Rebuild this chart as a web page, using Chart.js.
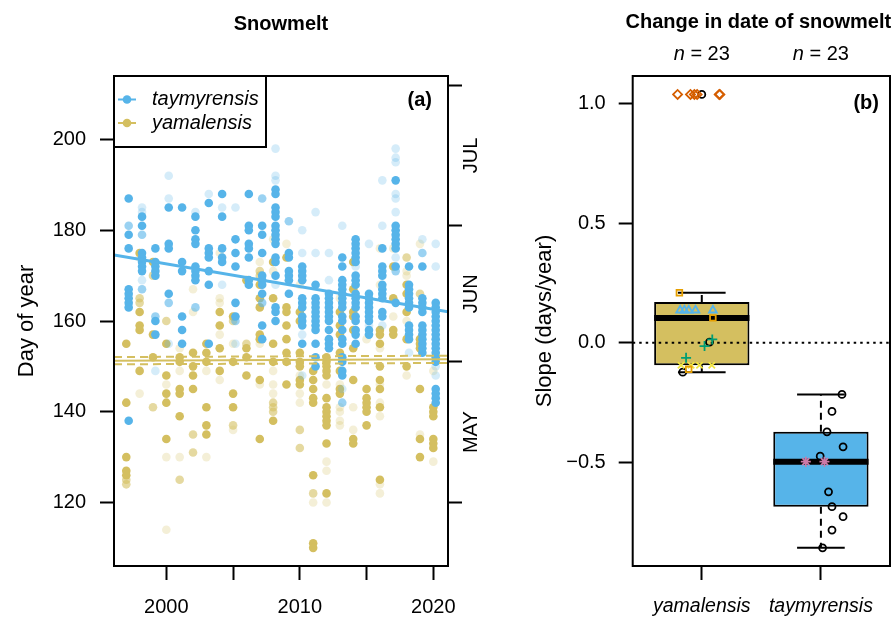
<!DOCTYPE html>
<html>
<head>
<meta charset="utf-8">
<script src="https://cdn.jsdelivr.net/npm/chart.js@4.4.1/dist/chart.umd.min.js"></script>
<style>
  html, body { margin: 0; padding: 0; background: #fff; }
  #wrap { position: relative; width: 891px; height: 618px; }
  canvas { position: absolute; top: 0; }
  #chart_snow { left: 0; }
  #chart_slope { left: 500px; }
</style>
</head>
<body>
<div id="wrap">
  <canvas id="chart_snow" width="500" height="618"></canvas>
  <canvas id="chart_slope" width="391" height="618"></canvas>
</div>
<script>
// ---- panel (a): snowmelt day per year ----
const years = [1997, 1998, 1999, 2000, 2001, 2002, 2003, 2004, 2005, 2006, 2007, 2008,
               2009, 2010, 2011, 2012, 2013, 2014, 2015, 2016, 2017, 2018, 2019, 2020];
const seriesNames = ['taymyrensis', 'yamalensis'];

// taymyrensis, day of year (solid / half / faint points)
const tayDays = [
  [187, 179, 176, 167, 166, 165, 164, 163, 138],
  [183, 181, 175, 174, 173, 172, 171],
  [176, 173, 172, 171, 170, 160, 157],
  [185, 177, 176, 166],
  [185, 173, 171, 161, 158, 155],
  [183, 180, 178, 177, 172, 171, 170, 169],
  [186, 176, 175, 174, 171, 168, 155],
  [188, 183, 176, 174, 173],
  [178, 175, 172, 164, 161],
  [188, 181, 180, 177, 176, 174, 169, 168],
  [181, 179, 175, 170, 169, 168, 166, 159, 156],
  [189, 188, 185, 184, 183, 181, 180, 179, 178, 177, 174, 173, 170, 163, 162, 160],
  [175, 174, 171, 170, 169, 166],
  [172, 171, 170, 169, 165, 164, 163, 161, 160, 159, 155],
  [168, 165, 164, 163, 162, 161, 160, 159, 158, 155, 152, 150],
  [166, 165, 164, 163, 162, 161, 160, 158, 156, 155, 154],
  [174, 172, 169, 168, 167, 166, 165, 164, 163, 161, 160, 158, 156, 155, 152, 151, 149, 148],
  [178, 177, 176, 175, 174, 173, 170, 169, 168, 166, 165, 164, 163, 161, 160, 158, 157, 155],
  [166, 165, 164, 163, 162, 161, 160, 158, 157],
  [176, 172, 171, 170, 168, 167, 166, 165, 162, 161],
  [191, 181, 180, 179, 178, 177, 176, 172, 164],
  [172, 168, 167, 166, 165, 164, 163, 159, 158, 157, 156],
  [172, 165, 164, 163, 162, 159, 158, 157, 156, 155, 154, 153],
  [164, 163, 162, 161, 160, 159, 158, 157, 156, 155, 154, 153, 152, 151, 145, 144, 143, 142]
];
const tayDaysMid = [
  [181], [179, 167], [161], [164], [], [163], [], [], [160], [], [187, 164], [],
  [182], [], [], [], [142], [], [], [], [171], [], [175], []
];
const tayDaysFaint = [
  [], [185, 184, 169], [149], [192, 187, 155], [], [184], [188], [185, 168], [185, 155], [], [], [198, 192, 191, 168],
  [], [180, 175, 157, 148], [184, 175], [175, 169], [181, 145], [172], [177, 159], [191, 181, 159],
  [198, 196, 195, 188, 187, 184, 174], [153], [178], [177, 172, 150, 148]
];

// yamalensis, day of year
const yamDays = [
  [155, 142, 130, 127, 126],
  [175, 162, 159, 158, 149],
  [173, 157, 152],
  [155, 148, 144, 142, 134],
  [152, 151, 145, 144, 139],
  [153, 150, 148, 145],
  [155, 153, 151, 141, 137, 135],
  [162, 159, 154, 149],
  [161, 151, 144, 141],
  [169, 154, 152, 148],
  [168, 165, 163, 157, 156, 147, 134],
  [173, 165, 155, 151, 138],
  [174, 163, 162, 159, 156, 153, 151, 146],
  [162, 160, 153, 151, 150, 147, 146],
  [149, 147, 145, 143, 142, 126, 111, 110],
  [152, 151, 150, 149, 148, 143, 141, 140, 139, 138, 137, 133, 122],
  [162, 159, 157, 153, 149, 145, 144],
  [173, 167, 162, 161, 158, 154, 147, 134, 133],
  [145, 143, 142, 141, 140, 137],
  [158, 157, 155, 150, 147, 145, 141, 125],
  [172, 165, 158, 157],
  [168, 166, 162, 156, 150],
  [156, 155, 154, 145, 134, 130],
  [141, 140, 139, 134, 133, 132]
];
const yamDaysMid = [
  [125, 124], [165, 164], [170, 141], [160], [125], [135, 131], [], [], [160, 137], [155], [171, 170], [142, 141, 140],
  [], [136, 132], [122], [], [], [], [], [], [], [174], [166], []
];
const yamDaysFaint = [
  [], [174, 144], [], [146, 130, 114], [154, 149, 130], [167, 162], [149, 130], [175, 165, 164, 157, 147],
  [155, 136], [], [173, 155, 146], [178, 171, 149, 146, 144], [177], [168, 148, 144, 142], [120],
  [146, 129, 127, 120], [165, 146, 141, 140, 138, 137], [141, 136], [156],
  [176, 168, 154, 146, 142, 139, 124, 122], [176, 161], [171, 170, 160, 148], [177, 135], [149, 129]
];

// fitted trends: [day at 2000, slope in days/year]
const tayFit = [172.6, -0.50];
const yamFit = [151.3, 0.012];
const yamFitBand = 0.8;

const yearTicks = [2000, 2005, 2010, 2015, 2020];
const yearLabels = [2000, 2010, 2020];
const dayTicks = [120, 140, 160, 180, 200];
const monthStarts = [120, 151, 181, 212];
const months = ['MAY', 'JUN', 'JUL'];

// ---- panel (b): change in snowmelt date ----
const species = ['yamalensis', 'taymyrensis'];
const speciesN = [23, 23];
const boxLower = [-0.123, -0.857];
const boxQ1 = [-0.094, -0.685];
const boxMedian = [0.104, -0.497];
const boxQ3 = [0.170, -0.372];
const boxUpper = [0.209, -0.216];
const slopeTicks = [-0.5, 0, 0.5, 1.0];

// jittered site slopes [x, slope], one list per marker group
const slopeDiamond = [[0.797, 1.038], [0.905, 1.038], [0.938, 1.038], [0.961, 1.038], [1.146, 1.038], [1.152, 1.038]];
const slopeSquare = [[0.812, 0.209], [1.093, 0.104], [0.890, -0.111]];
const slopeTriangle = [[0.818, 0.136], [0.854, 0.136], [0.890, 0.136], [0.947, 0.136], [1.093, 0.136]];
const slopePlus = [[1.088, 0.014], [1.023, -0.014], [0.868, -0.063]];
const slopeCross = [[0.826, -0.094], [0.910, -0.094], [0.981, -0.094], [1.084, -0.094]];
const slopeStar = [[1.873, -0.497], [2.030, -0.497]];
const slopeCircle = [[1.000, 1.038], [1.065, 0.003], [0.840, -0.123],
  [2.177, -0.216], [2.093, -0.287], [2.051, -0.372], [2.186, -0.435], [1.994, -0.474],
  [2.064, -0.623], [2.093, -0.685], [2.186, -0.727], [2.093, -0.783], [2.014, -0.857]];

const blue = '#56B4E9';
const yellow = '#D4BF60';
const fontFamily = '"Liberation Sans", Arial, Helvetica, sans-serif';

Chart.defaults.font.family = fontFamily;
Chart.defaults.font.size = 20;
Chart.defaults.color = '#000';

function rgba(hex, a) {
  const n = parseInt(hex.slice(1), 16);
  return `rgba(${n >> 16}, ${(n >> 8) & 255}, ${n & 255}, ${a})`;
}

function pointsOf(daysByYear, dodge) {
  const pts = [];
  daysByYear.forEach((days, i) => days.forEach(d => pts.push({ x: years[i] + dodge, y: d })));
  return pts;
}

const xMin = 1996.08, xMax = 2021.1;
function fitLine(fit, shift) {
  return [xMin, xMax].map(x => ({ x: x, y: fit[0] + fit[1] * (x - 2000) + shift }));
}

function dots(data, color, alpha, order) {
  return {
    type: 'scatter', data: data, order: order,
    backgroundColor: rgba(color, alpha), borderColor: rgba(color, alpha),
    borderWidth: 0, pointRadius: 4.3
  };
}

const tayDodge = 0.18;

const axisGrid = { display: true, offset: false, drawOnChartArea: false, drawTicks: true, tickLength: 14, tickWidth: 2, tickColor: '#000' };
const axisTitleFont = { size: 22 };

// keep the plot box fixed: no extra room for edge labels
function fixHeight(s) { s.height = 52; s.paddingLeft = 0; s.paddingRight = 0; }

const snowDecor = {
  id: 'snowDecor',
  afterDraw(chart) {
    const { ctx, chartArea: a, scales } = chart;
    ctx.save();
    ctx.strokeStyle = '#000';
    ctx.lineWidth = 2;
    ctx.strokeRect(a.left, a.top, a.right - a.left, a.bottom - a.top);

    ctx.fillStyle = '#000';
    ctx.font = 'bold 20px ' + fontFamily;
    ctx.textAlign = 'center';
    ctx.textBaseline = 'middle';
    ctx.fillText('Snowmelt', (a.left + a.right) / 2, 24);
    ctx.textAlign = 'right';
    ctx.fillText('(a)', a.right - 16, a.top + 24);

    // month names between the month ticks
    ctx.font = '20px ' + fontFamily;
    ctx.textAlign = 'center';
    months.forEach((m, i) => {
      const y = scales.y.getPixelForValue((monthStarts[i] + monthStarts[i + 1]) / 2);
      ctx.save();
      ctx.translate(a.right + 23, y);
      ctx.rotate(-Math.PI / 2);
      ctx.fillText(m, 0, 0);
      ctx.restore();
    });

    // legend
    const lw = 152, lh = 71;
    ctx.fillStyle = '#fff';
    ctx.fillRect(a.left, a.top, lw, lh);
    ctx.strokeRect(a.left, a.top, lw, lh);
    [blue, yellow].forEach((c, i) => {
      const y = a.top + 23.5 + i * 23.5;
      ctx.strokeStyle = c;
      ctx.lineWidth = 2;
      ctx.beginPath();
      ctx.moveTo(a.left + 4, y);
      ctx.lineTo(a.left + 22, y);
      ctx.stroke();
      ctx.fillStyle = c;
      ctx.beginPath();
      ctx.arc(a.left + 13, y, 4.3, 0, Math.PI * 2);
      ctx.fill();
      ctx.fillStyle = '#000';
      ctx.font = 'italic 20px ' + fontFamily;
      ctx.textAlign = 'left';
      ctx.fillText(seriesNames[i], a.left + 38, y);
    });
    ctx.restore();
  }
};

new Chart(document.getElementById('chart_snow'), {
  type: 'scatter',
  data: {
    datasets: [
      { type: 'line', data: fitLine(tayFit, 0), borderColor: blue, borderWidth: 3, pointRadius: 0, order: 0 },
      { type: 'line', data: fitLine(yamFit, 0), borderColor: yellow, borderWidth: 2, pointRadius: 0, order: 1 },
      { type: 'line', data: fitLine(yamFit, yamFitBand), borderColor: yellow, borderWidth: 2, borderDash: [8, 5], pointRadius: 0, order: 1 },
      { type: 'line', data: fitLine(yamFit, -yamFitBand), borderColor: yellow, borderWidth: 2, borderDash: [8, 5], pointRadius: 0, order: 1 },
      dots(pointsOf(tayDays, tayDodge), blue, 1, 2),
      dots(pointsOf(tayDaysMid, tayDodge), blue, 0.6, 3),
      dots(pointsOf(tayDaysFaint, tayDodge), blue, 0.25, 4),
      dots(pointsOf(yamDays, 0), yellow, 1, 5),
      dots(pointsOf(yamDaysMid, 0), yellow, 0.6, 6),
      dots(pointsOf(yamDaysFaint, 0), yellow, 0.25, 7)
    ]
  },
  options: {
    responsive: false,
    animation: false,
    events: [],
    layout: { autoPadding: false, padding: { top: 76, left: 0, right: 0, bottom: 0 } },
    plugins: { legend: { display: false }, tooltip: { enabled: false } },
    scales: {
      x: {
        type: 'linear', min: xMin, max: xMax,
        afterFit: fixHeight,
        afterBuildTicks: s => { s.ticks = yearTicks.map(v => ({ value: v })); },
        ticks: { callback: v => yearLabels.includes(v) ? String(v) : '', padding: 15, maxRotation: 0, autoSkip: false },
        grid: axisGrid,
        border: { display: false }
      },
      y: {
        min: 106, max: 214,
        afterFit: s => { s.width = 114; },
        afterBuildTicks: s => { s.ticks = dayTicks.map(v => ({ value: v })); },
        ticks: { padding: 14, autoSkip: false },
        grid: axisGrid,
        border: { display: false },
        title: { display: true, text: 'Day of year', font: axisTitleFont, padding: { top: 14, bottom: 0 } }
      },
      y2: {
        position: 'right', min: 106, max: 214,
        afterFit: s => { s.width = 52; },
        afterBuildTicks: s => { s.ticks = monthStarts.map(v => ({ value: v })); },
        ticks: { callback: () => '', padding: 0, autoSkip: false },
        grid: axisGrid,
        border: { display: false }
      }
    }
  },
  plugins: [snowDecor]
});

// ---- panel (b) ----
const boxHalf = 0.4, capHalf = 0.2;
const slopeMin = -0.933, slopeMax = 1.115;
const catMin = 0.42, catMax = 2.58;

function seg(x1, y1, x2, y2, width, dash, order) {
  return {
    type: 'line', data: [{ x: x1, y: y1 }, { x: x2, y: y2 }],
    borderColor: '#000', borderWidth: width, borderDash: dash, pointRadius: 0, order: order
  };
}

const boxParts = [];
species.forEach((name, i) => {
  const c = i + 1;
  boxParts.push(seg(c, boxQ3[i], c, boxUpper[i], 2, [7, 5], 2));
  boxParts.push(seg(c, boxQ1[i], c, boxLower[i], 2, [7, 5], 2));
  boxParts.push(seg(c - capHalf, boxUpper[i], c + capHalf, boxUpper[i], 2, [], 2));
  boxParts.push(seg(c - capHalf, boxLower[i], c + capHalf, boxLower[i], 2, [], 2));
  boxParts.push(seg(c - boxHalf, boxMedian[i], c + boxHalf, boxMedian[i], 6, [], 2));
});

function marks(list, style, color, radius) {
  return {
    type: 'scatter', data: list.map(p => ({ x: p[0], y: p[1] })), order: 0,
    pointStyle: style, pointRadius: radius, borderColor: color, backgroundColor: 'rgba(0,0,0,0)', borderWidth: 1.8
  };
}

const slopeDecor = {
  id: 'slopeDecor',
  afterDraw(chart) {
    const { ctx, chartArea: a, scales } = chart;
    ctx.save();
    ctx.strokeStyle = '#000';
    ctx.lineWidth = 2;
    ctx.strokeRect(a.left, a.top, a.right - a.left, a.bottom - a.top);
    ctx.fillStyle = '#000';
    ctx.font = 'bold 20px ' + fontFamily;
    ctx.textAlign = 'center';
    ctx.textBaseline = 'middle';
    ctx.fillText('Change in date of snowmelt', (a.left + a.right) / 2 - 3, 22);
    ctx.textAlign = 'right';
    ctx.fillText('(b)', a.right - 11, a.top + 27);
    // n labels over each box
    species.forEach((name, i) => {
      const x = scales.x.getPixelForValue(i + 1);
      ctx.font = 'italic 20px ' + fontFamily;
      const w1 = ctx.measureText('n').width;
      ctx.font = '20px ' + fontFamily;
      const rest = ' = ' + speciesN[i];
      const w2 = ctx.measureText(rest).width;
      const x0 = x - (w1 + w2) / 2;
      ctx.textAlign = 'left';
      ctx.font = 'italic 20px ' + fontFamily;
      ctx.fillText('n', x0, 54);
      ctx.font = '20px ' + fontFamily;
      ctx.fillText(rest, x0 + w1, 54);
    });
    ctx.restore();
  }
};

new Chart(document.getElementById('chart_slope'), {
  type: 'bar',
  data: {
    datasets: [
      marks(slopeDiamond, 'rectRot', '#D55E00', 4.5),
      marks(slopeSquare, 'rect', '#E69F00', 4),
      marks(slopeTriangle, 'triangle', blue, 4.5),
      marks(slopePlus, 'cross', '#009E73', 5),
      marks(slopeCross, 'crossRot', '#F0E442', 4.5),
      marks(slopeStar, 'star', '#CC79A7', 5),
      marks(slopeCircle, 'circle', '#000', 3.5),
      seg(catMin, 0, catMax, 0, 2, [2.5, 4], 1),
      ...boxParts,
      {
        type: 'bar', order: 5,
        data: species.map((s, i) => ({ x: i + 1, y: [boxQ1[i], boxQ3[i]] })),
        backgroundColor: [yellow, blue], borderColor: '#000', borderWidth: 2, borderSkipped: false,
        barPercentage: 0.8, categoryPercentage: 1
      }
    ]
  },
  options: {
    responsive: false,
    animation: false,
    events: [],
    layout: { autoPadding: false, padding: { top: 76, left: 0, right: 1, bottom: 0 } },
    plugins: { legend: { display: false }, tooltip: { enabled: false } },
    scales: {
      x: {
        type: 'linear', min: catMin, max: catMax, offset: false,
        afterFit: fixHeight,
        afterBuildTicks: s => { s.ticks = species.map((n, i) => ({ value: i + 1 })); },
        ticks: { callback: v => species[v - 1], padding: 15, maxRotation: 0, autoSkip: false, font: { style: 'italic', size: 19.5 } },
        grid: axisGrid,
        border: { display: false }
      },
      y: {
        min: slopeMin, max: slopeMax,
        afterFit: s => { s.width = 132.7; },
        afterBuildTicks: s => { s.ticks = slopeTicks.map(v => ({ value: v })); },
        ticks: { callback: v => (v < 0 ? '\u2212' : '') + Math.abs(v).toFixed(1), padding: 13, autoSkip: false },
        grid: axisGrid,
        border: { display: false },
        title: { display: true, text: 'Slope (days/year)', font: axisTitleFont, padding: { top: 32, bottom: 0 } }
      }
    }
  },
  plugins: [slopeDecor]
});
</script>
</body>
</html>
